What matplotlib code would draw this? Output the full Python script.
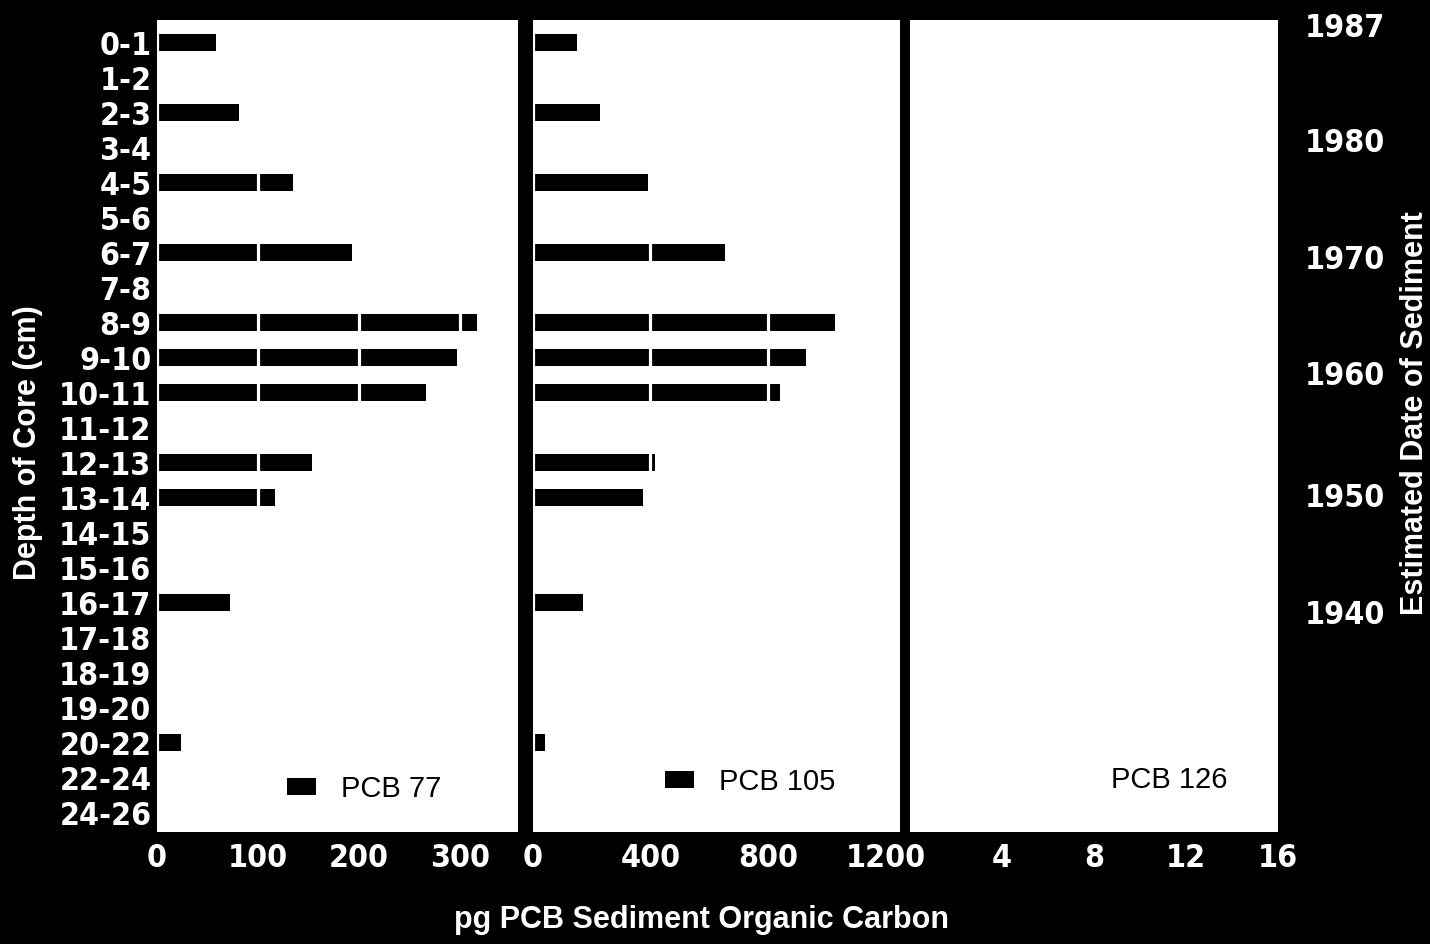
import numpy as np
import matplotlib
matplotlib.use("Agg")
import matplotlib.pyplot as plt
from matplotlib.patches import Patch

# depth intervals of the core (cm), top to bottom
depth = ['0-1', '1-2', '2-3', '3-4', '4-5', '5-6', '6-7', '7-8', '8-9', '9-10',
         '10-11', '11-12', '12-13', '13-14', '14-15', '15-16', '16-17', '17-18',
         '18-19', '19-20', '20-22', '22-24', '24-26']

# pg PCB per g sediment organic carbon
pcb77 = [58, 0, 81, 0, 134, 0, 193, 0, 316, 297, 266, 0, 153, 117, 0, 0, 72, 0, 0, 0, 24, 0, 0]
pcb105 = [150, 0, 229, 0, 390, 0, 653, 0, 1029, 930, 841, 0, 414, 373, 0, 0, 171, 0, 0, 0, 41, 0, 0]

# estimated date of sediment (right axis), placed on the depth scale
years = ['1987', '1980', '1970', '1960', '1950', '1940']
year_pos = [-0.5, 2.79, 6.13, 9.44, 12.93, 16.27]

W, H = 1430, 944
fig = plt.figure(figsize=(W / 100, H / 100), dpi=100, facecolor='black')

tickfont = dict(family='DejaVu Sans', stretch='condensed', weight='bold', size=23, color='white')


def panel(x0, x1):
    return fig.add_axes([x0 / W, (H - 832) / H, (x1 - x0) / W, (832 - 20) / H])


ax1 = panel(157, 518)
ax2 = panel(533, 900)
ax3 = panel(910, 1278)

y = np.arange(len(depth))
panels = [(ax1, pcb77, 'PCB 77', [0, 100, 200, 300], (0, 357), 'black', (0.36, 0.053)),
          (ax2, pcb105, 'PCB 105', [0, 400, 800, 1200], (0, 1250), 'black', (0.36, 0.062)),
          (ax3, None, 'PCB 126', [4, 8, 12, 16], (0, 16), 'white', (0.40, 0.064))]

for ax, vals, name, ticks, lim, pc, lpos in panels:
    ax.set_facecolor('white')
    if vals is not None:
        ax.barh(y, vals, height=0.48, color='black', linewidth=0)
    ax.set_xlim(*lim)
    ax.set_ylim(22.55, -0.65)
    ax.set_xticks(ticks)
    ax.set_xticklabels([str(t) for t in ticks], fontdict=tickfont)
    ax.set_yticks([])
    ax.tick_params(length=0, pad=8)
    # white gridlines cut through the bars
    ax.xaxis.grid(True, color='white', linewidth=2.3)
    ax.set_axisbelow(False)
    for s in ax.spines.values():
        s.set_visible(False)
    ax.legend(handles=[Patch(facecolor=pc, edgecolor='none')], labels=[name],
              loc='center left', bbox_to_anchor=lpos, frameon=False,
              borderpad=0, borderaxespad=0, handlelength=1.0, handleheight=0.55,
              handletextpad=0.85, prop=dict(family='Liberation Sans', size=21))

ax1.set_yticks(y)
ax1.set_yticklabels(depth, fontdict=tickfont)
ax1.tick_params(axis='y', pad=4)

ax3.yaxis.tick_right()
ax3.set_yticks(year_pos)
ax3.set_yticklabels(years, fontdict=tickfont)
ax3.tick_params(axis='y', length=0, pad=19.5)

labfont = dict(family='Liberation Sans', weight='bold', size=22, color='white')
fig.text(28 / W, 1 - 443 / H, 'Depth of Core (cm)', rotation=90, ha='center', va='center', **labfont)
fig.text(1415 / W, 1 - 413 / H, 'Estimated Date of Sediment', rotation=90, ha='center', va='center', **labfont)
fig.text(701 / W, 1 - 920 / H, 'pg PCB Sediment Organic Carbon', ha='center', va='center', **labfont)

fig.savefig('out.png', dpi=100, facecolor='black')
